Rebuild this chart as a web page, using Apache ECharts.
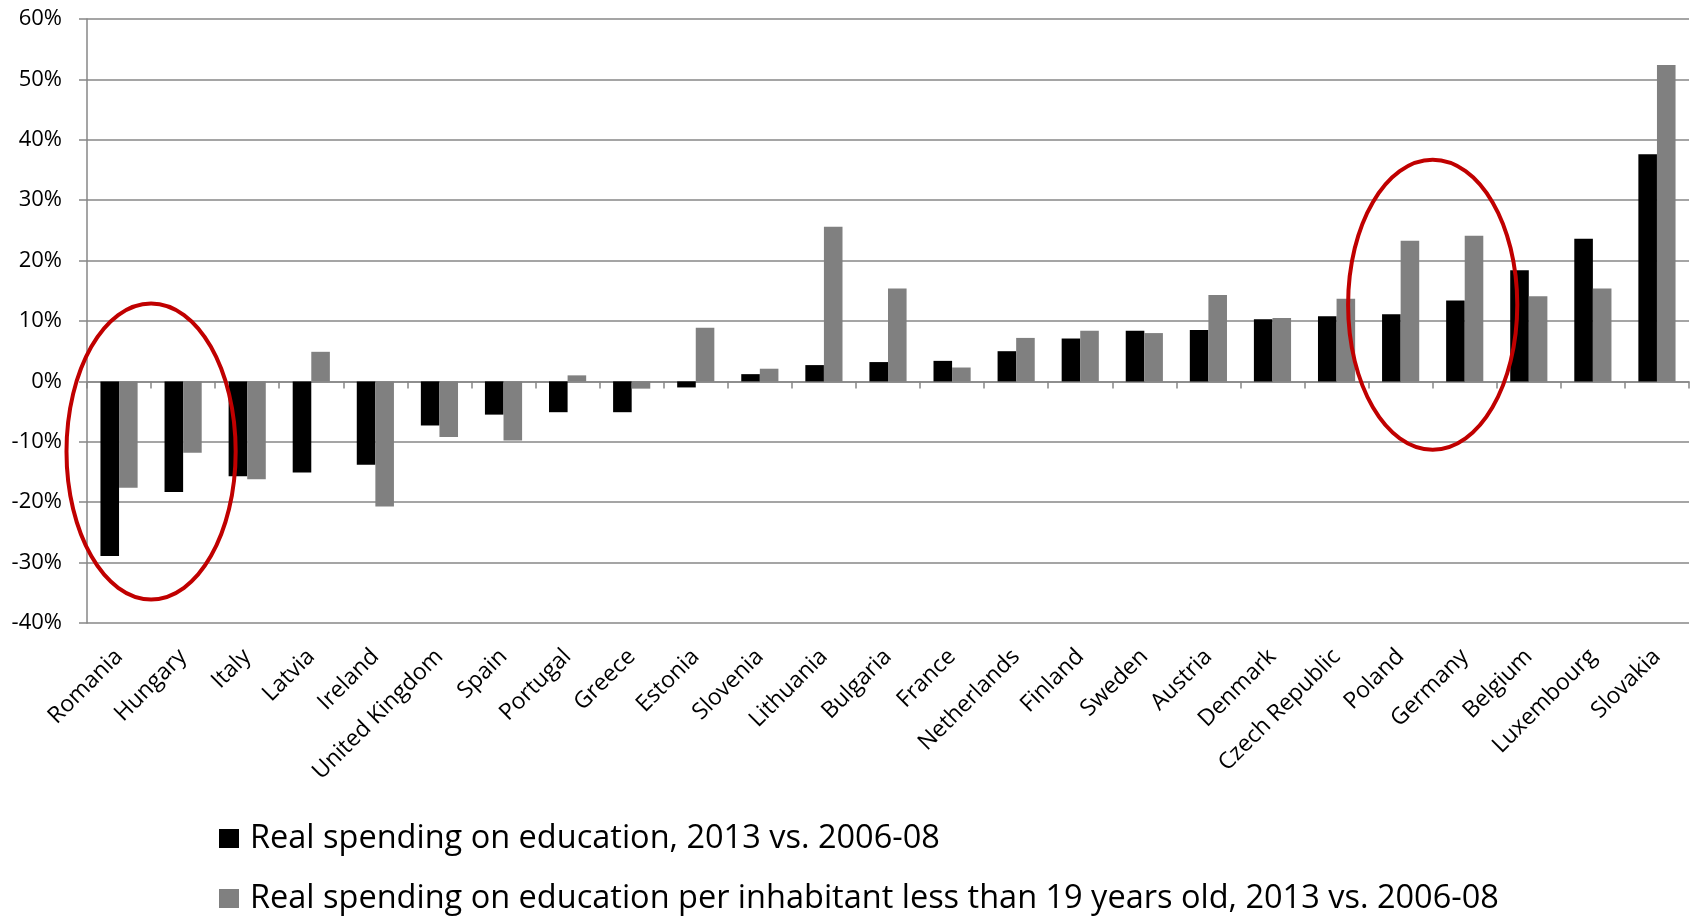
<!DOCTYPE html>
<html>
<head>
<meta charset="utf-8">
<script src="https://cdn.jsdelivr.net/npm/echarts@6/dist/echarts.min.js"></script>
<style>
html,body{margin:0;padding:0;background:#fff;}
#chart{width:1694px;height:916px;}
</style>
</head>
<body>
<div id="chart"></div>
<script>
const categories = ['Romania','Hungary','Italy','Latvia','Ireland','United Kingdom','Spain','Portugal','Greece','Estonia','Slovenia','Lithuania','Bulgaria','France','Netherlands','Finland','Sweden','Austria','Denmark','Czech Republic','Poland','Germany','Belgium','Luxembourg','Slovakia'];
const realSpending = [-28.9,-18.3,-15.7,-15.1,-13.8,-7.3,-5.5,-5.1,-5.1,-1.0,1.2,2.7,3.2,3.4,5.0,7.1,8.4,8.5,10.3,10.8,11.1,13.4,18.4,23.6,37.6];
const perInhabitant = [-17.6,-11.8,-16.2,4.9,-20.7,-9.2,-9.8,1.0,-1.2,8.9,2.1,25.6,15.4,2.3,7.2,8.4,8.0,14.3,10.5,13.7,23.3,24.1,14.1,15.4,52.4];
const seriesNames = ['Real spending on education, 2013 vs. 2006-08','Real spending on education per inhabitant less than 19 years old, 2013 vs. 2006-08'];
const yTicks = {min:-40, max:60, interval:10};
// highlight ellipses: centred on the boundary between two categories
const highlights = [
  {between:['Romania','Hungary'], centre:-11.6, halfSpan:24.5, bandRadius:1.32},
  {between:['Poland','Germany'], centre:12.7, halfSpan:24.0, bandRadius:1.32}
];

const FONT = 'Open Sans';
const GRID = '#878787';
const legendStyle = {
  orient:'horizontal', left:214,
  itemWidth:20, itemHeight:19, icon:'rect',
  textStyle:{fontFamily:FONT, fontSize:32.5, color:'#000', padding:[0,0,0,6]}
};
const chart = echarts.init(document.getElementById('chart'), null, {renderer:'canvas'});
chart.setOption({
  animation:false,
  backgroundColor:'#fff',
  grid:{left:87, right:5, top:19, bottom:293, containLabel:false},
  legend:[
    Object.assign({}, legendStyle, {top:817, data:[seriesNames[0]]}),
    Object.assign({}, legendStyle, {top:877, data:[seriesNames[1]]})
  ],
  xAxis:[
    {type:'category', data:categories, position:'bottom',
     axisLine:{show:false, onZero:false}, axisTick:{show:false},
     axisLabel:{interval:0, rotate:45, margin:30, fontFamily:FONT, fontSize:23, color:'#000'}},
    {type:'category', data:categories, position:'top',
     axisLine:{show:true, onZero:true, lineStyle:{color:GRID, width:1.5}},
     axisTick:{show:true, inside:true, length:7, interval:0, lineStyle:{color:GRID, width:1.5}},
     axisLabel:{show:false}}
  ],
  yAxis:{
    type:'value', min:yTicks.min, max:yTicks.max, interval:yTicks.interval,
    axisLine:{show:true, lineStyle:{color:GRID, width:1.5}},
    axisTick:{show:true, length:8, lineStyle:{color:GRID, width:1.5}},
    splitLine:{show:true, lineStyle:{color:GRID, width:1.5}},
    axisLabel:{formatter:'{value}%', margin:25, fontFamily:FONT, fontSize:22, color:'#000'}
  },
  series:[
    {name:seriesNames[0], type:'bar', xAxisIndex:0, data:realSpending,
     itemStyle:{color:'#000000'}, barGap:'0%', barCategoryGap:'42%'},
    {name:seriesNames[1], type:'bar', xAxisIndex:0, data:perInhabitant,
     itemStyle:{color:'#808080'}, barGap:'0%', barCategoryGap:'42%'}
  ]
});

function drawHighlights(){
  const band = chart.convertToPixel({xAxisIndex:0}, categories[1]) - chart.convertToPixel({xAxisIndex:0}, categories[0]);
  const els = highlights.map(h => {
    const x1 = chart.convertToPixel({xAxisIndex:0}, h.between[0]);
    const x2 = chart.convertToPixel({xAxisIndex:0}, h.between[1]);
    const cy = chart.convertToPixel({yAxisIndex:0}, h.centre);
    const top = chart.convertToPixel({yAxisIndex:0}, h.centre + h.halfSpan);
    return {type:'ellipse', z:100, silent:true,
      shape:{cx:(x1+x2)/2, cy:cy, rx:band*h.bandRadius, ry:Math.abs(cy-top)},
      style:{fill:null, stroke:'#c00000', lineWidth:4}};
  });
  chart.setOption({graphic:{elements:els}});
}
drawHighlights();
</script>
</body>
</html>
